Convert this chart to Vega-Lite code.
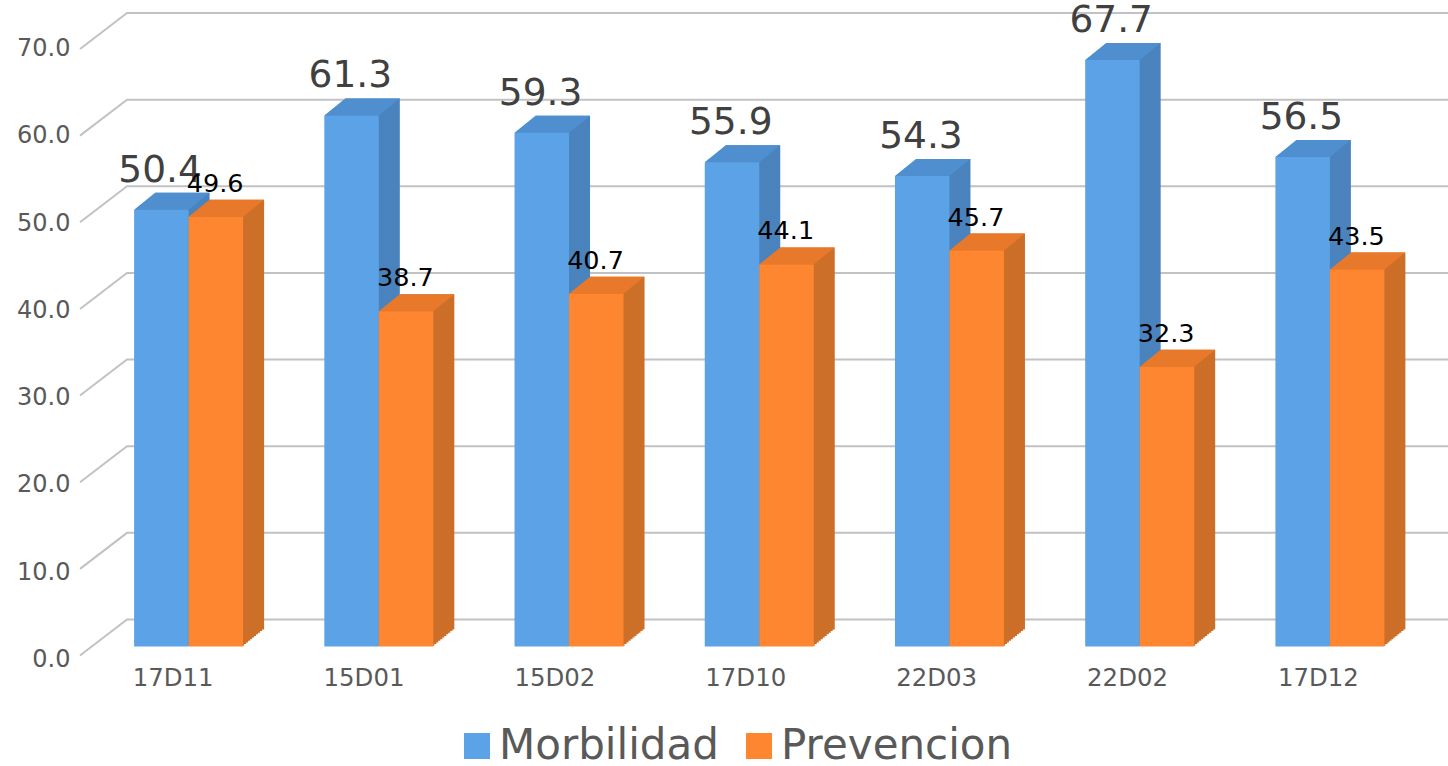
{"$schema":"https://vega.github.io/schema/vega-lite/v6.json","width":1368,"height":606.5,"autosize":{"type":"none"},"padding":{"left":80,"top":40,"right":0,"bottom":119.5},"background":"white","config":{"view":{"stroke":null},"font":"DejaVu Sans"},
"layer":[
{"data":{"values":[{"t":0},{"t":10},{"t":20},{"t":30},{"t":40},{"t":50},{"t":60},{"t":70}]},"layer":[
{"mark":{"type":"point","shape":"M0,9L47,-27L1368,-27","size":4,"filled":false,"opacity":1,"stroke":"#c2c2c6","strokeWidth":2},"encoding":{"y":{"field":"t","type":"quantitative","scale":{"domain":[0,70],"nice":false},"title":null,"axis":{"grid":false,"domain":false,"ticks":false,"values":[0,10,20,30,40,50,60,70],"format":".1f","labelFontSize":24,"labelColor":"#595959","labelPadding":10,"labelOffset":{"expr":"13-datum.value*0.065"}}},"x":{"value":0}}}
]},
{"data":{"values":[
{"unidad":"17D11","serie":"Morbilidad","valor":50.4},{"unidad":"17D11","serie":"Prevencion","valor":49.6},
{"unidad":"15D01","serie":"Morbilidad","valor":61.3},{"unidad":"15D01","serie":"Prevencion","valor":38.7},
{"unidad":"15D02","serie":"Morbilidad","valor":59.3},{"unidad":"15D02","serie":"Prevencion","valor":40.7},
{"unidad":"17D10","serie":"Morbilidad","valor":55.9},{"unidad":"17D10","serie":"Prevencion","valor":44.1},
{"unidad":"22D03","serie":"Morbilidad","valor":54.3},{"unidad":"22D03","serie":"Prevencion","valor":45.7},
{"unidad":"22D02","serie":"Morbilidad","valor":67.7},{"unidad":"22D02","serie":"Prevencion","valor":32.3},
{"unidad":"17D12","serie":"Morbilidad","valor":56.5},{"unidad":"17D12","serie":"Prevencion","valor":43.5}]},
"encoding":{"x":{"field":"unidad","type":"nominal","sort":null,"title":null,"scale":{"range":[13.5,1345],"paddingInner":0,"paddingOuter":0},"axis":{"domain":false,"ticks":false,"grid":false,"labelAngle":0,"labelFontSize":24.4,"labelColor":"#595959","labelOffset":{"expr":"-15.5+datum.index*4"},"labelPadding":20}},"y":{"field":"valor","type":"quantitative"}},
"layer":[
{"transform":[{"filter":"datum.serie==='Morbilidad'"}],"layer":[
{"mark":{"type":"bar","size":54.5,"color":"#4a83bd","xOffset":-6.25,"yOffset":-17}},
{"mark":{"type":"bar","size":54.5,"color":"#4a83bd","xOffset":-8.25,"yOffset":-15.38}},
{"mark":{"type":"bar","size":54.5,"color":"#4a83bd","xOffset":-10.25,"yOffset":-13.76}},
{"mark":{"type":"bar","size":54.5,"color":"#4a83bd","xOffset":-12.25,"yOffset":-12.14}},
{"mark":{"type":"bar","size":54.5,"color":"#4a83bd","xOffset":-14.25,"yOffset":-10.52}},
{"mark":{"type":"bar","size":54.5,"color":"#4a83bd","xOffset":-16.25,"yOffset":-8.9}},
{"mark":{"type":"bar","size":54.5,"color":"#4a83bd","xOffset":-18.25,"yOffset":-7.29}},
{"mark":{"type":"bar","size":54.5,"color":"#4a83bd","xOffset":-20.25,"yOffset":-5.67}},
{"mark":{"type":"bar","size":54.5,"color":"#4a83bd","xOffset":-22.25,"yOffset":-4.05}},
{"mark":{"type":"bar","size":54.5,"color":"#4a83bd","xOffset":-24.25,"yOffset":-2.43}},
{"mark":{"type":"bar","size":54.5,"color":"#4a83bd","xOffset":-26.25,"yOffset":-0.81}},
{"mark":{"type":"point","shape":"M-54.5,0L0,0L21,-17L-33.5,-17Z","size":4,"filled":true,"opacity":1,"color":"#4f8fd0","strokeWidth":0}},
{"mark":{"type":"bar","size":54.5,"xOffset":-27.25},"encoding":{"color":{"field":"serie","type":"nominal","scale":{"domain":["Morbilidad","Prevencion"],"range":["#5ba3e6","#ff8630"]},"legend":{"orient":"none","direction":"horizontal","legendX":376,"legendY":685,"title":null,"symbolType":"square","symbolSize":676,"symbolStrokeWidth":0,"labelFontSize":42,"labelColor":"#595959","columnPadding":19,"labelOffset":1,"labelLimit":400}}}},
{"mark":{"type":"text","fontSize":37.5,"color":"#404040","baseline":"alphabetic","xOffset":-28.5,"dy":-28},"encoding":{"text":{"field":"valor","format":".1f"}}}
]},
{"transform":[{"filter":"datum.serie==='Prevencion'"}],"layer":[
{"mark":{"type":"bar","size":54.5,"color":"#cc6f28","xOffset":48.25,"yOffset":-17}},
{"mark":{"type":"bar","size":54.5,"color":"#cc6f28","xOffset":46.25,"yOffset":-15.38}},
{"mark":{"type":"bar","size":54.5,"color":"#cc6f28","xOffset":44.25,"yOffset":-13.76}},
{"mark":{"type":"bar","size":54.5,"color":"#cc6f28","xOffset":42.25,"yOffset":-12.14}},
{"mark":{"type":"bar","size":54.5,"color":"#cc6f28","xOffset":40.25,"yOffset":-10.52}},
{"mark":{"type":"bar","size":54.5,"color":"#cc6f28","xOffset":38.25,"yOffset":-8.9}},
{"mark":{"type":"bar","size":54.5,"color":"#cc6f28","xOffset":36.25,"yOffset":-7.29}},
{"mark":{"type":"bar","size":54.5,"color":"#cc6f28","xOffset":34.25,"yOffset":-5.67}},
{"mark":{"type":"bar","size":54.5,"color":"#cc6f28","xOffset":32.25,"yOffset":-4.05}},
{"mark":{"type":"bar","size":54.5,"color":"#cc6f28","xOffset":30.25,"yOffset":-2.43}},
{"mark":{"type":"bar","size":54.5,"color":"#cc6f28","xOffset":28.25,"yOffset":-0.81}},
{"mark":{"type":"point","shape":"M0,0L54.5,0L75.5,-17L21,-17Z","size":4,"filled":true,"opacity":1,"color":"#e8782a","strokeWidth":0}},
{"mark":{"type":"bar","size":54.5,"xOffset":27.25},"encoding":{"color":{"field":"serie","type":"nominal"}}},
{"mark":{"type":"text","fontSize":25.5,"color":"#000000","baseline":"alphabetic","xOffset":26.5,"dy":-25},"encoding":{"text":{"field":"valor","format":".1f"}}}
]}
]}
],"resolve":{"scale":{"y":"shared","x":"shared"}}}
